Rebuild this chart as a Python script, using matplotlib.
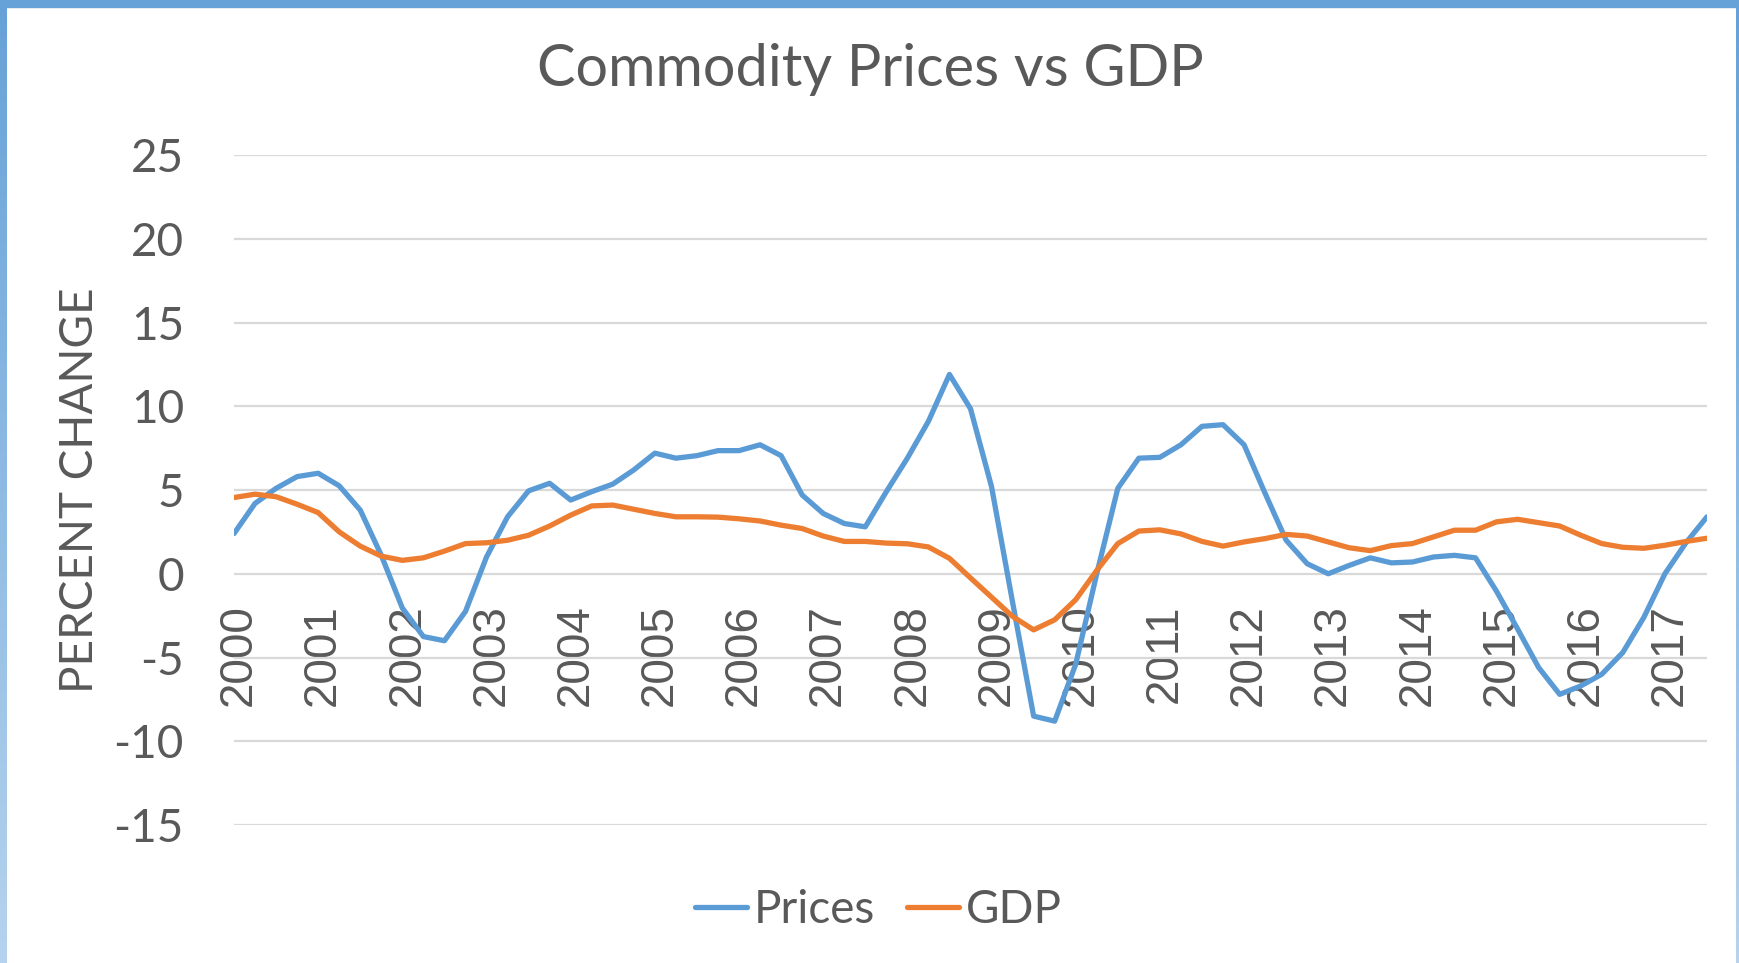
import matplotlib
matplotlib.use("Agg")
import matplotlib.pyplot as plt
import matplotlib.transforms as mtransforms
import numpy as np
from matplotlib.colors import LinearSegmentedColormap

# ---- data (quarterly, 2000Q1 .. 2017Q3) ----
year_labels = [str(y) for y in range(2000, 2018)]
prices = [2.4, 4.2, 5.1, 5.8, 6.0, 5.25, 3.8, 1.1, -2.05, -3.75, -4.0, -2.25,
          1.0, 3.4, 4.95, 5.4, 4.4, 4.9, 5.35, 6.2, 7.2, 6.9, 7.05, 7.35,
          7.35, 7.7, 7.05, 4.7, 3.6, 3.0, 2.8, 4.9, 6.9, 9.1, 11.9, 9.85,
          5.2, -1.7, -8.5, -8.8, -5.4, 0.0, 5.1, 6.9, 6.95, 7.7, 8.8, 8.9,
          7.7, 4.8, 2.0, 0.6, 0.0, 0.5, 0.95, 0.65, 0.7, 1.0, 1.1, 0.95,
          -1.05, -3.3, -5.6, -7.2, -6.7, -6.0, -4.7, -2.6, 0.0, 1.85, 3.4]
gdp = [4.55, 4.75, 4.6, 4.15, 3.65, 2.5, 1.65, 1.05, 0.8, 0.95, 1.35, 1.8,
       1.85, 2.0, 2.3, 2.85, 3.5, 4.05, 4.1, 3.85, 3.6, 3.4, 3.4, 3.38,
       3.28, 3.15, 2.9, 2.7, 2.25, 1.93, 1.93, 1.83, 1.79, 1.6, 0.92, -0.25,
       -1.4, -2.55, -3.35, -2.75, -1.55, 0.2, 1.8, 2.55, 2.62, 2.38, 1.93, 1.65,
       1.9, 2.1, 2.35, 2.25, 1.9, 1.55, 1.38, 1.68, 1.8, 2.2, 2.6, 2.6,
       3.1, 3.25, 3.05, 2.85, 2.3, 1.8, 1.58, 1.52, 1.7, 1.93, 2.12]
y_ticks = [-15, -10, -5, 0, 5, 10, 15, 20, 25]

W, H = 1740, 963
fig = plt.figure(figsize=(W / 100, H / 100), dpi=100)
fig.patch.set_facecolor("white")

TXT = "#595959"
FONT = ["Lato", "DejaVu Sans"]

# frame (blue border)
grad = np.linspace(0, 1, 256).reshape(-1, 1)
cmap = LinearSegmentedColormap.from_list("b", ["#66A2D7", "#B5D3EE"])
axl = fig.add_axes([0, 0, 7 / W, 1])
axl.imshow(grad, aspect="auto", cmap=cmap)
axl.axis("off")
axr = fig.add_axes([1 - 4 / W, 0, 4 / W, 1 - 7 / H])
axr.imshow(grad, aspect="auto", cmap=cmap)
axr.axis("off")
fig.patches.append(plt.Rectangle((0, 1 - 7 / H), 1, 7 / H, transform=fig.transFigure,
                                 color="#66A2D7", zorder=0))

left, right = 234 / W, 1707 / W
bottom, top = (H - 825) / H, (H - 155) / H
ax = fig.add_axes([left, bottom, right - left, top - bottom])

for s in ["top", "right", "left"]:
    ax.spines[s].set_visible(False)
ax.spines["bottom"].set_position(("data", 0))
ax.spines["bottom"].set_visible(False)

x = np.arange(len(prices))
ax.plot(x, prices, color="#5B9BD5", lw=3.8, solid_joinstyle="round",
        solid_capstyle="round", label="Prices", zorder=3)
ax.plot(x, gdp, color="#ED7D31", lw=3.8, solid_joinstyle="round",
        solid_capstyle="round", label="GDP", zorder=3)

ax.set_xlim(0, len(prices) - 1)
ax.set_ylim(-15, 25)
ax.set_yticks(y_ticks)
ax.set_xticks(np.arange(0, len(prices), 4))
ax.set_xticklabels(year_labels, rotation=90, family=["Liberation Sans", "DejaVu Sans"],
                   fontsize=33, color=TXT)
ax.set_yticklabels([str(v) for v in y_ticks], family=FONT, fontsize=33, color=TXT)

ax.tick_params(axis="x", length=0, pad=22)
ax.tick_params(axis="y", length=0, pad=36)
shift = mtransforms.ScaledTranslation(5 / 100, 0, fig.dpi_scale_trans)
for lab in ax.get_xticklabels():
    lab.set_transform(lab.get_transform() + shift)
ax.yaxis.grid(True, color="#D9D9D9", lw=1.6)
ax.xaxis.grid(False)
ax.set_axisbelow(True)

fig.text(80 / W, 1 - 490 / H, "PERCENT CHANGE", rotation=90, ha="center", va="center",
         family=FONT, fontsize=33, color=TXT)
fig.text(0.5, 1 - 70 / H, "Commodity Prices vs GDP", ha="center", va="center",
         family=FONT, fontsize=41.5, color=TXT)

leg = fig.legend(loc="center", bbox_to_anchor=(0.505, 1 - 910 / H), ncol=2, frameon=False,
                 prop={"family": FONT, "size": 33}, handlelength=1.13,
                 handletextpad=0.15, columnspacing=0.7)
for t in leg.get_texts():
    t.set_color(TXT)

fig.savefig("out.png", dpi=100, facecolor="white")
